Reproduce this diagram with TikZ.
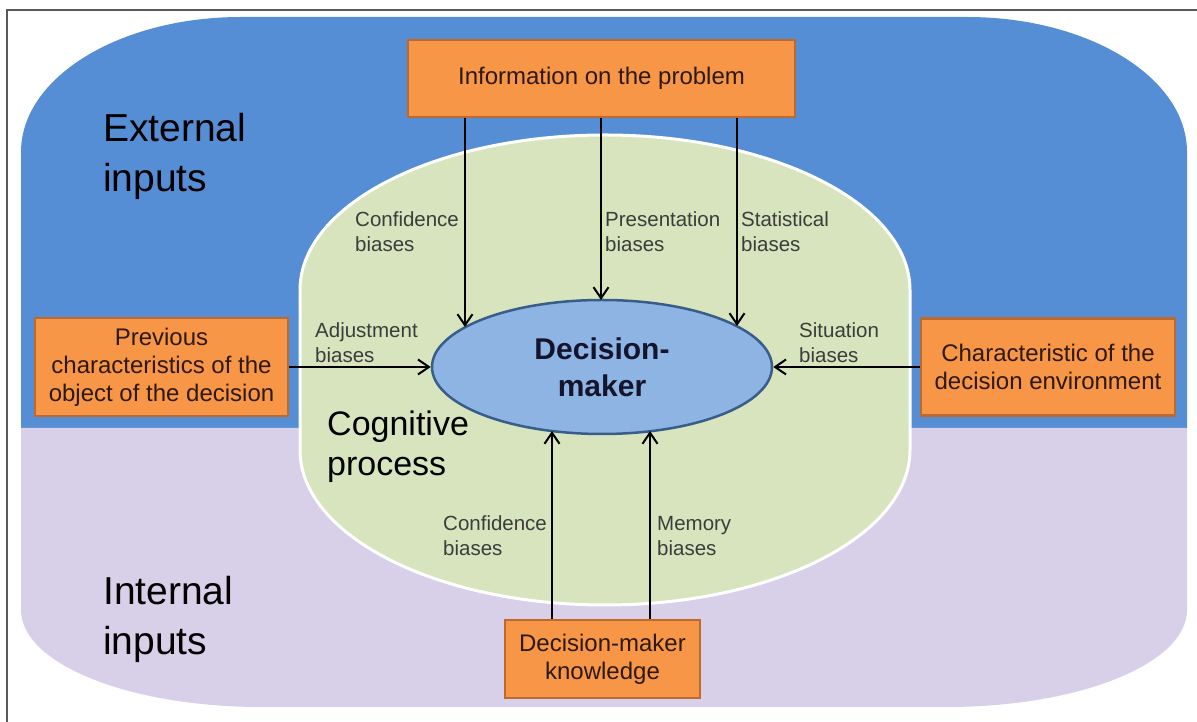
\documentclass[tikz,border=0pt]{standalone}
\usepackage{fontspec}
\setmainfont{Liberation Sans}
\usetikzlibrary{arrows.meta,shapes.geometric}
\definecolor{C0}{RGB}{85,142,213}
\definecolor{C1}{RGB}{216,207,233}
\definecolor{C2}{RGB}{215,228,189}
\definecolor{C3}{RGB}{142,180,227}
\definecolor{C4}{RGB}{56,93,138}
\definecolor{C5}{RGB}{247,150,70}
\definecolor{C6}{RGB}{190,105,45}
\definecolor{C7}{RGB}{90,90,90}
\definecolor{C8}{RGB}{45,25,15}
\definecolor{C9}{RGB}{60,60,60}
\definecolor{C10}{RGB}{20,20,45}

\tikzset{
  inputbox/.style={draw=C6, line width=2.5pt, fill=C5, align=center, inner sep=0pt,
    text=C8, font=\fontsize{24}{28}\selectfont},
  biaslabel/.style={anchor=west, align=left, inner sep=0pt, text=C9,
    font=\fontsize{20.5}{25}\selectfont},
  biasarrow/.style={line width=2pt, -{Straight Barb[length=11pt,width=15pt,line width=2pt]}},
  bigtext/.style={anchor=west, align=left, inner sep=0pt, text=black},
}

\begin{document}
\begin{tikzpicture}[x=1pt,y=1pt]
  \useasboundingbox (0,0) rectangle (1197,722);

  % Frame.
  \draw[C7, line width=1.5pt] (7,0) -- (7,712) -- (1197,712);

  % External inputs (upper half).
  \fill[C0] (21,294) -- (21,570) arc[start angle=180, end angle=90, x radius=220pt, y radius=135pt]
    -- (967,705) arc[start angle=90, end angle=0, x radius=220pt, y radius=135pt] -- (1187,294) -- cycle;

  % Internal inputs (lower half).
  \fill[C1] (21,294) -- (21,112) arc[start angle=180, end angle=270, x radius=240pt, y radius=97pt]
    -- (947,15) arc[start angle=270, end angle=360, x radius=240pt, y radius=97pt] -- (1187,294) -- cycle;

  % Cognitive process.
  \draw[white, line width=3pt, fill=C2] (300,432) arc[start angle=180, end angle=0, x radius=305pt, y radius=155pt]
    -- (910,272) arc[start angle=0, end angle=-180, x radius=305pt, y radius=155pt] -- cycle;

  \node[bigtext, font=\fontsize{39}{50}\selectfont] (ext) at (103,566) {External\\inputs};
  \node[bigtext, font=\fontsize{39}{50}\selectfont] (int) at (103,103) {Internal\\inputs};
  \node[bigtext, font=\fontsize{34}{40}\selectfont] (cog) at (327,275) {Cognitive\\process};

  % Decision-maker.
  \node[ellipse, draw=C4, line width=2.5pt, fill=C3, minimum width=340pt, minimum height=134pt,
    align=center, inner sep=0pt, text=C10, font=\bfseries\fontsize{30}{37}\selectfont] (dm) at (602,355) {Decision-\\maker};

  % Inputs.
  \node[inputbox, minimum width=387pt, minimum height=77pt] (info) at (601.5,643.5) {Information on the problem};
  \node[inputbox, minimum width=253pt, minimum height=98pt] (prev) at (161.5,355) {Previous\\characteristics of the\\object of the decision};
  \node[inputbox, minimum width=254pt, minimum height=97pt] (env) at (1048,355) {Characteristic of the\\decision environment};
  \node[inputbox, minimum width=195pt, minimum height=78pt] (know) at (602.5,63) {Decision-maker\\knowledge};

  % Arrows from the problem.
  \coordinate (t1) at (465,395);
  \coordinate (t2) at (601,422);
  \coordinate (t3) at (737,396);
  \draw[biasarrow] (info.south -| t1) -- (t1);
  \draw[biasarrow] (info.south -| t2) -- (t2);
  \draw[biasarrow] (info.south -| t3) -- (t3);

  % Side arrows.
  \draw[biasarrow] (prev.east) -- (dm.west);
  \draw[biasarrow] (env.west) -- (dm.east);

  % Arrows from knowledge.
  \coordinate (b1) at (552,291);
  \coordinate (b2) at (650,291);
  \draw[biasarrow] (know.north -| b1) -- (b1);
  \draw[biasarrow] (know.north -| b2) -- (b2);

  % Bias labels.
  \node[biaslabel] (l1) at (355,490.5) {Confidence\\biases};
  \node[biaslabel] (l2) at (605,490.5) {Presentation\\biases};
  \node[biaslabel] (l3) at (741,490.5) {Statistical\\biases};
  \node[biaslabel] (l4) at (315,379) {Adjustment\\biases};
  \node[biaslabel] (l5) at (799,379) {Situation\\biases};
  \node[biaslabel] (l6) at (443,186) {Confidence\\biases};
  \node[biaslabel] (l7) at (657,186) {Memory\\biases};

\end{tikzpicture}
\end{document}
